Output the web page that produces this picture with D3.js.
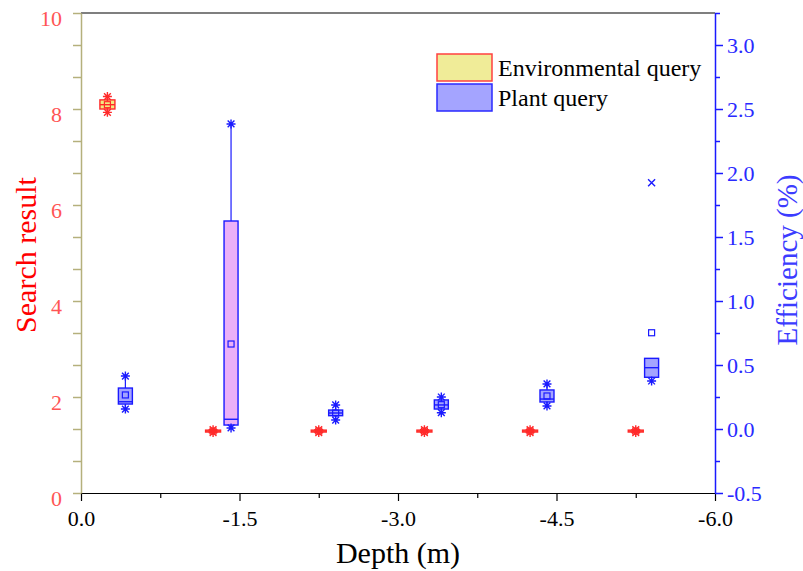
<!DOCTYPE html>
<html>
<head>
<meta charset="utf-8">
<script src="https://cdn.jsdelivr.net/npm/d3@7"></script>
<style>
  body { margin: 0; background: #fff; }
  svg, svg text { font-family: "Liberation Serif", "Times New Roman", serif; }
</style>
</head>
<body>
<svg id="chart" width="803" height="571"></svg>
<script>
// Environmental query (left axis, search result)
const envDepth  = [-0.25, -1.25, -2.25, -3.25, -4.25, -5.25];
const envMin    = [7.93, 1.26, 1.26, 1.26, 1.26, 1.26];
const envQ1     = [8.00, 1.27, 1.27, 1.27, 1.27, 1.27];
const envMedian = [8.09, 1.29, 1.29, 1.29, 1.29, 1.29];
const envMean   = [8.09, 1.29, 1.29, 1.29, 1.29, 1.29];
const envQ3     = [8.19, 1.31, 1.31, 1.31, 1.31, 1.31];
const envMax    = [8.26, 1.32, 1.32, 1.32, 1.32, 1.32];

// Plant query (right axis, efficiency %)
const plantDepth  = [-0.42, -1.42, -2.41, -3.41, -4.41, -5.40];
const plantMin    = [0.156, 0.008, 0.070, 0.127, 0.180, 0.375];
const plantQ1     = [0.195, 0.031, 0.104, 0.156, 0.211, 0.404];
const plantMedian = [0.213, 0.076, 0.125, 0.188, 0.234, 0.479];
const plantMean   = [0.266, 0.664, 0.125, 0.190, 0.258, 0.752];
const plantQ3     = [0.320, 1.625, 0.148, 0.227, 0.305, 0.552];
const plantMax    = [0.414, 2.383, 0.188, 0.250, 0.352, 0.552];
const plantOutliers = [[], [], [], [], [], [1.924]];
const plantFill   = ["#a4a4ff", "#ebb0f8", "#a4a4ff", "#a4a4ff", "#a4a4ff", "#a4a4ff"];

const xTicks = [0, -1.5, -3.0, -4.5, -6.0];
const leftTicks = [0, 2, 4, 6, 8, 10];
const rightTicks = [-0.5, 0, 0.5, 1.0, 1.5, 2.0, 2.5, 3.0];
const legendLabels = ["Environmental query", "Plant query"];

const svg = d3.select("#chart");
const pLeft = 81, pRight = 715, pTop = 13, pBottom = 493;
const serif = "Liberation Serif, Times New Roman, serif";
const fmt1 = v => v.toFixed(1);

const x = d3.scaleLinear().domain([0, -6]).range([pLeft, pRight]);
const yL = d3.scaleLinear().domain([0, 10]).range([pBottom, pTop]);
const yR = d3.scaleLinear().domain([-0.5, 3.25]).range([pBottom, pTop]);

const red = "#ff2a2a", blue = "#1a1aff";

// top frame line
svg.append("line").attr("x1", pLeft).attr("x2", pRight).attr("y1", pTop).attr("y2", pTop)
  .attr("stroke", "#000").attr("stroke-width", 1.2);

// bottom axis
const xAxis = svg.append("g").attr("transform", `translate(0,${pBottom})`)
  .call(d3.axisBottom(x).tickValues(xTicks).tickFormat(fmt1).tickSize(8).tickSizeOuter(0));
xAxis.selectAll("text").style("font-family", serif).style("font-size", "22px")
  .attr("fill", "#000").attr("dy", "1.0em");
xAxis.select(".domain").attr("stroke", "#000").attr("stroke-width", 1.2);
xAxis.selectAll(".tick line").attr("stroke", "#000").attr("stroke-width", 1.2);
svg.append("g").attr("transform", `translate(0,${pBottom})`)
  .call(d3.axisBottom(x).tickValues(d3.range(-0.75, -6, -1.5)).tickFormat("").tickSize(5).tickSizeOuter(0))
  .call(g => g.select(".domain").remove())
  .selectAll("line").attr("stroke", "#000").attr("stroke-width", 1.2);

// left axis
const olive = "#b5b07c";
const lAxis = svg.append("g").attr("transform", `translate(${pLeft},0)`)
  .call(d3.axisLeft(yL).tickValues(leftTicks).tickFormat(d3.format("d")).tickSize(8).tickSizeOuter(0));
lAxis.select(".domain").attr("stroke", olive).attr("stroke-width", 1.5);
lAxis.selectAll(".tick line").attr("stroke", olive).attr("stroke-width", 1.5);
lAxis.selectAll("text").style("font-family", serif).style("font-size", "22px")
  .attr("fill", "#ff5555").attr("x", -19).attr("dy", "0.55em");
svg.append("g").attr("transform", `translate(${pLeft},0)`)
  .call(d3.axisLeft(yL).tickValues(d3.range(0, 10.01, 2 / 3).filter((d, i) => i % 3 !== 0)).tickFormat("").tickSize(8).tickSizeOuter(0))
  .call(g => g.select(".domain").remove())
  .selectAll("line").attr("stroke", olive).attr("stroke-width", 1.5);

// right axis
const rAxis = svg.append("g").attr("transform", `translate(${pRight},0)`)
  .call(d3.axisRight(yR).tickValues(rightTicks).tickFormat(fmt1).tickSize(8).tickSizeOuter(0));
rAxis.select(".domain").attr("stroke", blue).attr("stroke-width", 1.5);
rAxis.selectAll(".tick line").attr("stroke", blue).attr("stroke-width", 1.5);
rAxis.selectAll("text").style("font-family", serif).style("font-size", "22px")
  .attr("fill", "#2a2aff").attr("x", 12);
svg.append("g").attr("transform", `translate(${pRight},0)`)
  .call(d3.axisRight(yR).tickValues(d3.range(-0.25, 3.3, 0.5)).tickFormat("").tickSize(5).tickSizeOuter(0))
  .call(g => g.select(".domain").remove())
  .selectAll("line").attr("stroke", blue).attr("stroke-width", 1.5);

// axis titles
svg.append("text").attr("transform", "translate(36,255) rotate(-90)")
  .attr("text-anchor", "middle").attr("font-size", 30).attr("fill", "#ff0000").text("Search result");
svg.append("text").attr("transform", "translate(797,260) rotate(-90)")
  .attr("text-anchor", "middle").attr("font-size", 29).attr("fill", "#3c3cff").text("Efficiency (%)");
svg.append("text").attr("x", (pLeft + pRight) / 2).attr("y", 563)
  .attr("text-anchor", "middle").attr("font-size", 30).attr("fill", "#000").text("Depth (m)");

// marker helpers
function asterisk(g, cx, cy, color) {
  const r = 4.5;
  g.append("path")
    .attr("d", `M${cx - r},${cy}H${cx + r}M${cx},${cy - r}V${cy + r}` +
      `M${cx - r * 0.75},${cy - r * 0.75}L${cx + r * 0.75},${cy + r * 0.75}` +
      `M${cx - r * 0.75},${cy + r * 0.75}L${cx + r * 0.75},${cy - r * 0.75}`)
    .attr("stroke", color).attr("stroke-width", 1.4).attr("fill", "none");
}
function cross(g, cx, cy, color) {
  const r = 3.5;
  g.append("path")
    .attr("d", `M${cx - r},${cy - r}L${cx + r},${cy + r}M${cx - r},${cy + r}L${cx + r},${cy - r}`)
    .attr("stroke", color).attr("stroke-width", 1.4).attr("fill", "none");
}

function drawBoxes(depth, mn, q1, med, mean, q3, mx, y, stroke, fills, boxW, outliers) {
  const g = svg.append("g");
  depth.forEach((d, i) => {
    const cx = x(d);
    // whiskers
    g.append("line").attr("x1", cx).attr("x2", cx).attr("y1", y(q3[i])).attr("y2", y(mx[i]))
      .attr("stroke", stroke).attr("stroke-width", 1.2);
    g.append("line").attr("x1", cx).attr("x2", cx).attr("y1", y(q1[i])).attr("y2", y(mn[i]))
      .attr("stroke", stroke).attr("stroke-width", 1.2);
    // box
    g.append("rect").attr("x", cx - boxW / 2).attr("y", y(q3[i]))
      .attr("width", boxW).attr("height", Math.max(1.5, y(q1[i]) - y(q3[i])))
      .attr("fill", fills[i]).attr("stroke", stroke).attr("stroke-width", 1.4);
    // median
    g.append("line").attr("x1", cx - boxW / 2).attr("x2", cx + boxW / 2)
      .attr("y1", y(med[i])).attr("y2", y(med[i])).attr("stroke", stroke).attr("stroke-width", 1.4);
    // mean
    g.append("rect").attr("x", cx - 3).attr("y", y(mean[i]) - 3).attr("width", 6).attr("height", 6)
      .attr("fill", "none").attr("stroke", stroke).attr("stroke-width", 1.2);
    // whisker end markers (none where the whisker collapses onto the box)
    if (mx[i] > q3[i]) asterisk(g, cx, y(mx[i]), stroke);
    if (mn[i] < q1[i]) asterisk(g, cx, y(mn[i]), stroke);
    if (outliers) outliers[i].forEach(v => cross(g, cx, y(v), stroke));
  });
}

drawBoxes(envDepth, envMin, envQ1, envMedian, envMean, envQ3, envMax, yL, red,
  envDepth.map(() => "#f2ea80"), 15, null);
drawBoxes(plantDepth, plantMin, plantQ1, plantMedian, plantMean, plantQ3, plantMax, yR, blue,
  plantFill, 14, plantOutliers);

// legend
const legend = svg.append("g").attr("transform", "translate(437,54)");
const legFill = ["#f0ec98", "#a4a4ff"], legStroke = ["#ff4040", "#2a2aff"];
legendLabels.forEach((t, i) => {
  legend.append("rect").attr("x", 0).attr("y", i * 30).attr("width", 55).attr("height", 27)
    .attr("fill", legFill[i]).attr("stroke", legStroke[i]).attr("stroke-width", 1.5);
  legend.append("text").attr("x", 61).attr("y", i * 30 + 13.5).attr("dy", "0.35em")
    .attr("font-size", 24).attr("fill", "#000").text(t);
});
</script>
</body>
</html>
